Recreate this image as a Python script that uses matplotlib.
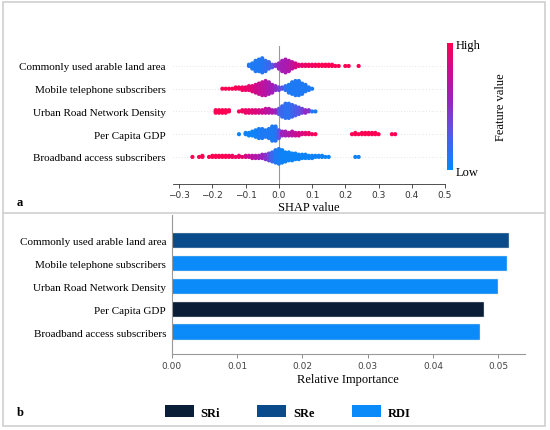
import numpy as np
import matplotlib
matplotlib.use('Agg')
import matplotlib.pyplot as plt
from matplotlib.colors import LinearSegmentedColormap
from matplotlib.patches import Patch, Rectangle
from matplotlib.lines import Line2D

plt.rcParams['font.family'] = ['Liberation Serif', 'DejaVu Serif']

features = ['Commonly used arable land area', 'Mobile telephone subscribers',
            'Urban Road Network Density', 'Per Capita GDP', 'Broadband access subscribers']

# SHAP values, binned at 0.01: bin centre, number of dots, feature value (0 low .. 1 high)
arable_x = [-0.09, -0.08, -0.07, -0.06, -0.05, -0.04, -0.03, -0.02, -0.01, 0.00, 0.01, 0.02, 0.03, 0.04,
            0.05, 0.06, 0.07, 0.08, 0.09, 0.10, 0.11, 0.12, 0.13, 0.14, 0.15, 0.16, 0.17, 0.18, 0.20, 0.21, 0.24]
arable_n = [2, 5, 9, 10, 12, 9, 6, 3, 2, 5, 9, 11, 9, 6,
            4, 2, 2, 2, 2, 2, 2, 2, 2, 2, 2, 2, 1, 1, 1, 1, 1]
arable_c = [0.1, 0.1, 0.1, 0.1, 0.12, 0.15, 0.2, 0.3, 0.45, 0.55, 0.6, 0.62, 0.65, 0.72,
            0.8, 0.85, 0.9, 0.92, 0.95, 0.95, 0.95, 1, 1, 1, 1, 1, 1, 1, 1, 1, 1]

mobile_x = [-0.17, -0.16, -0.15, -0.14, -0.13, -0.12, -0.11, -0.10, -0.09, -0.08, -0.07, -0.06, -0.05, -0.04,
            -0.03, -0.02, -0.01, 0.00, 0.01, 0.02, 0.03, 0.04, 0.05, 0.06, 0.07, 0.08, 0.09, 0.10]
mobile_n = [1, 1, 1, 1, 2, 2, 3, 3, 4, 5, 7, 9, 11, 12,
            10, 7, 4, 3, 2, 4, 7, 10, 12, 12, 9, 6, 3, 1]
mobile_c = [1, 1, 1, 1, 1, 0.97, 0.95, 0.92, 0.9, 0.85, 0.8, 0.75, 0.72, 0.68,
            0.62, 0.58, 0.5, 0.4, 0.3, 0.15, 0.1, 0.1, 0.1, 0.1, 0.1, 0.1, 0.1, 0.1]

urban_x = [-0.19, -0.18, -0.17, -0.16, -0.15, -0.12, -0.11, -0.10, -0.09, -0.08, -0.07, -0.06, -0.05, -0.04,
           -0.03, -0.02, -0.01, 0.00, 0.01, 0.02, 0.03, 0.04, 0.05, 0.06, 0.07, 0.08, 0.09, 0.10, 0.11]
urban_n = [3, 3, 3, 3, 2, 1, 2, 3, 3, 3, 3, 3, 3, 4,
           4, 3, 3, 5, 9, 12, 12, 10, 8, 6, 4, 3, 2, 1, 1]
urban_c = [1, 1, 1, 1, 1, 0.97, 0.95, 0.92, 0.9, 0.88, 0.85, 0.82, 0.78, 0.72,
           0.68, 0.62, 0.55, 0.3, 0.2, 0.15, 0.15, 0.2, 0.25, 0.3, 0.4, 0.5, 0.45, 0.1, 0.1]

gdp_x = [-0.12, -0.10, -0.09, -0.08, -0.07, -0.06, -0.05, -0.04, -0.03, -0.02, -0.01, 0.00, 0.01, 0.02,
         0.03, 0.04, 0.05, 0.06, 0.07, 0.08, 0.09, 0.10, 0.11, 0.22, 0.23, 0.24, 0.25, 0.26, 0.27, 0.28,
         0.29, 0.30, 0.34, 0.35]
gdp_n = [1, 2, 3, 4, 6, 8, 8, 6, 8, 12, 12, 7, 4, 4,
         3, 4, 3, 3, 2, 2, 2, 1, 1, 1, 2, 1, 2, 2, 2, 2,
         2, 1, 1, 1]
gdp_c = [0.05, 0.05, 0.05, 0.05, 0.05, 0.08, 0.1, 0.1, 0.1, 0.1, 0.12, 0.3, 0.55, 0.6,
         0.65, 0.7, 0.75, 0.8, 0.85, 0.88, 0.92, 0.95, 1, 1, 1, 1, 1, 1, 1, 1,
         1, 1, 1, 1]

broad_x = [-0.26, -0.24, -0.23, -0.21, -0.20, -0.19, -0.18, -0.17, -0.16, -0.15, -0.14, -0.13, -0.12, -0.11,
           -0.10, -0.09, -0.08, -0.07, -0.06, -0.05, -0.04, -0.03, -0.02, -0.01, 0.00, 0.01, 0.02, 0.03,
           0.04, 0.05, 0.06, 0.07, 0.08, 0.09, 0.10, 0.11, 0.12, 0.13, 0.14, 0.15, 0.23, 0.24]
broad_n = [1, 1, 2, 1, 2, 2, 2, 2, 2, 2, 2, 1, 2, 1,
           2, 2, 3, 3, 3, 4, 5, 7, 9, 12, 14, 12, 9, 8,
           7, 6, 5, 4, 4, 3, 3, 2, 2, 2, 1, 1, 1, 1]
broad_c = [1, 1, 1, 1, 1, 1, 1, 1, 1, 0.97, 0.95, 0.95, 0.92, 0.9,
           0.82, 0.75, 0.7, 0.65, 0.6, 0.55, 0.48, 0.35, 0.2, 0.1, 0.08, 0.05, 0.05, 0.05,
           0.05, 0.05, 0.05, 0.05, 0.05, 0.05, 0.05, 0.05, 0.05, 0.05, 0.05, 0.05, 0.05, 0.05]

# panel b
importance = [0.05157, 0.0513, 0.04995, 0.04784, 0.04726]
groups = ['SRe', 'RDI', 'RDI', 'SRi', 'RDI']
group_colors = {'SRi': '#0a1e37', 'SRe': '#0a4c8b', 'RDI': '#0a8bf9'}

rows = [(arable_x, arable_n, arable_c), (mobile_x, mobile_n, mobile_c), (urban_x, urban_n, urban_c),
        (gdp_x, gdp_n, gdp_c), (broad_x, broad_n, broad_c)]

red_blue = LinearSegmentedColormap.from_list(
    'red_blue', [(0, '#008bfb'), (0.3, '#5a55e6'), (0.55, '#9a22bf'), (0.8, '#d10a8a'), (1, '#ff0052')])


def swarm(xs, ns, cs, row_height=0.44):
    px, py, pc = [], [], []
    for x, n, c in zip(xs, ns, cs):
        for k in range(n):
            px.append(x)
            py.append(np.ceil(k / 2) * ((k % 2) * 2 - 1))
            pc.append(c)
    py = np.array(py)
    py *= 0.9 * (row_height / np.max(py + 1))
    return np.array(px), py, np.array(pc)


fig = plt.figure(figsize=(5.5, 4.31), dpi=100)

# ---- panel a: SHAP summary
ax1 = fig.add_axes([0.3142, 0.5708, 0.495, 0.3202])
nrow = len(features)
for i, (xs, ns, cs) in enumerate(rows):
    pos = nrow - 1 - i
    ax1.axhline(pos, color='#cccccc', lw=0.5, dashes=(1, 3), zorder=-1)
    px, py, pc = swarm(xs, ns, cs)
    ax1.scatter(px, pos + py, c=pc, cmap=red_blue, vmin=0, vmax=1, s=9, linewidths=0, zorder=3)
ax1.axvline(0, color='#999999', lw=0.8, zorder=-1)
ax1.set_xlim(-0.319, 0.5)
ax1.set_ylim(-1.19, 4.88)
ax1.set_yticks(range(nrow))
ax1.set_yticklabels(features[::-1], fontsize=8)
ax1.tick_params('y', length=0, pad=5)
ax1.set_xticks(np.arange(-0.3, 0.51, 0.1))
ax1.set_xticklabels([f'{v:.1f}'.replace('-', '\u2212') for v in np.arange(-0.3, 0.51, 0.1)],
                    fontsize=6.5, family='DejaVu Sans', color='#333333')
ax1.tick_params('x', length=3, width=0.6, color='#333333', pad=1.5)
for s in ['top', 'right', 'left']:
    ax1.spines[s].set_visible(False)
ax1.spines['bottom'].set_color('#333333')
ax1.spines['bottom'].set_linewidth(0.6)
ax1.set_xlabel('SHAP value', fontsize=9, labelpad=1)

cax = fig.add_axes([0.8127, 0.6032, 0.0109, 0.2947])
sm = plt.cm.ScalarMappable(cmap=red_blue, norm=plt.Normalize(0, 1))
cb = fig.colorbar(sm, cax=cax, ticks=[0, 1])
cb.set_ticklabels(['Low', 'High'])
cb.ax.tick_params(labelsize=9, length=0, pad=2)
cb.outline.set_visible(False)
cb.set_label('Feature value', size=9, labelpad=10)

# ---- panel b: relative importance
ax2 = fig.add_axes([0.3122, 0.1763, 0.6424, 0.3225])
ypos = np.arange(nrow)[::-1]
ax2.barh(ypos, importance, height=0.66, color=[group_colors[g] for g in groups],
         edgecolor='#dddddd', linewidth=0.3)
ax2.set_xlim(0, 0.0541)
ax2.set_ylim(-0.967, 5.14)
ax2.set_yticks(ypos)
ax2.set_yticklabels(features, fontsize=8)
ax2.tick_params('y', length=0, pad=4)
ax2.set_xticks(np.arange(0, 0.051, 0.01))
ax2.set_xticklabels([f'{v:.2f}' for v in np.arange(0, 0.051, 0.01)],
                    fontsize=6.5, family='DejaVu Sans', color='#444444')
ax2.tick_params('x', length=3, width=0.6, color='#777777', pad=2)
for s in ['top', 'right']:
    ax2.spines[s].set_visible(False)
for s in ['left', 'bottom']:
    ax2.spines[s].set_color('#999999')
    ax2.spines[s].set_linewidth(0.8)
ax2.set_xlabel('Relative Importance', fontsize=9, labelpad=2)

handles = [Patch(facecolor=group_colors[g], edgecolor='none', label=g) for g in ['SRi', 'SRe', 'RDI']]
fig.legend(handles=handles, loc='center', bbox_to_anchor=(0.523, 0.0418), ncol=3, frameon=False,
           handlelength=2.3, handleheight=1.05, handletextpad=0.55, columnspacing=3.0,
           prop={'weight': 'bold', 'size': 9})

fig.text(0.031, 0.529, 'a', fontsize=9, fontweight='bold', va='center')
fig.text(0.031, 0.042, 'b', fontsize=9, fontweight='bold', va='center')

# panel frames
fig.add_artist(Rectangle((3 / 550, 1 - 427 / 431), 542 / 550, 424 / 431, transform=fig.transFigure,
                         fill=False, edgecolor='#d0d0d0', lw=1.2))
fig.add_artist(Line2D([3 / 550, 545 / 550], [1 - 214 / 431] * 2, transform=fig.transFigure,
                      color='#d0d0d0', lw=1.2))

fig.savefig('out.png', dpi=100)
